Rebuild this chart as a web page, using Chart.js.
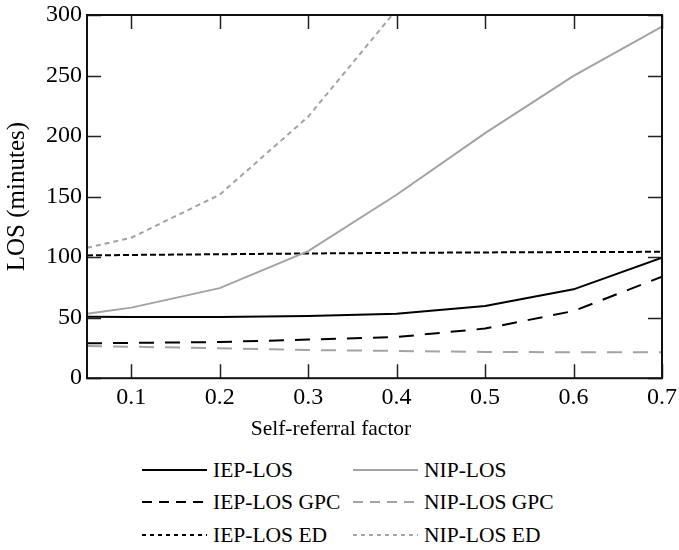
<!DOCTYPE html>
<html>
<head>
<meta charset="utf-8">
<script src="https://cdn.jsdelivr.net/npm/chart.js@4/dist/chart.umd.min.js"></script>
<style>
    html, body { margin: 0; padding: 0; background: #fff; }
    #wrap { position: relative; width: 679px; height: 550px; font-family: 'Liberation Serif', serif; }
    #chart { position: absolute; left: 0; top: 0; }
    .legend-item { position: absolute; height: 26px; display: flex; align-items: center; font-size: 21.5px; color: #000; white-space: nowrap; }
    .legend-item svg { margin-right: 6px; }
</style>
</head>
<body>
<div id="wrap">
    <canvas id="chart" width="679" height="450"></canvas>
    <div id="legend"></div>
</div>
<script>
const factors = [0.05, 0.1, 0.2, 0.3, 0.4, 0.5, 0.6, 0.7];
const iepLos = [50.8, 50.6, 50.6, 51.3, 53.3, 59.6, 73.4, 99.5];
const nipLos = [53.3, 58.3, 74.4, 104.9, 151.5, 202.4, 249.7, 290.4];
const iepLosGpc = [28.8, 29.2, 29.9, 31.9, 34.0, 41.0, 55.5, 83.8];
const nipLosGpc = [26.6, 26.0, 24.7, 23.3, 22.5, 21.7, 21.4, 21.4];
const iepLosEd = [101.4, 101.8, 102.4, 103.0, 103.5, 103.9, 104.2, 104.4];
const nipLosEd = [107.7, 116.0, 151.6, 216.0, 304.5, null, null, null];
const xTicks = [0.1, 0.2, 0.3, 0.4, 0.5, 0.6, 0.7];
const yTicks = [0, 50, 100, 150, 200, 250, 300];

const BLACK = '#000000';
const GREY = '#a3a3a3';
const TICK_FONT = { family: "'Liberation Serif', serif", size: 24 };
const LABEL_FONT = { family: "'Liberation Serif', serif", size: 21.5, weight: 'normal' };

const seriesDefs = [
    { label: 'IEP-LOS', values: iepLos, color: BLACK, dash: [] },
    { label: 'NIP-LOS', values: nipLos, color: GREY, dash: [] },
    { label: 'IEP-LOS GPC', values: iepLosGpc, color: BLACK, dash: [15, 11] },
    { label: 'NIP-LOS GPC', values: nipLosGpc, color: GREY, dash: [15, 11] },
    { label: 'IEP-LOS ED', values: iepLosEd, color: BLACK, dash: [6, 3] },
    { label: 'NIP-LOS ED', values: nipLosEd, color: GREY, dash: [5, 4] }
];

const toPoints = (values) => factors.map((x, i) => ({ x, y: values[i] }));

// inward ticks on all four sides plus the frame
const frameTicks = {
    id: 'frameTicks',
    afterDatasetsDraw(chart) {
        const { ctx, chartArea: area, scales } = chart;
        const len = 14;
        ctx.save();
        ctx.strokeStyle = '#222';
        ctx.lineWidth = 1.5;
        xTicks.forEach((v) => {
            const px = Math.round(scales.x.getPixelForValue(v)) + 0.5;
            ctx.beginPath();
            ctx.moveTo(px, area.bottom);
            ctx.lineTo(px, area.bottom - len);
            ctx.moveTo(px, area.top);
            ctx.lineTo(px, area.top + len);
            ctx.stroke();
        });
        yTicks.forEach((v) => {
            const py = Math.round(scales.y.getPixelForValue(v)) + 0.5;
            ctx.beginPath();
            ctx.moveTo(area.left, py);
            ctx.lineTo(area.left + len, py);
            ctx.moveTo(area.right, py);
            ctx.lineTo(area.right - len, py);
            ctx.stroke();
        });
        ctx.lineWidth = 2;
        ctx.strokeStyle = '#111';
        ctx.strokeRect(area.left, area.top, area.right - area.left, area.bottom - area.top);
        ctx.restore();
    }
};

new Chart(document.getElementById('chart'), {
    type: 'line',
    data: {
        datasets: seriesDefs.map((s) => ({
            label: s.label,
            data: toPoints(s.values),
            borderColor: s.color,
            backgroundColor: s.color,
            borderDash: s.dash,
            borderWidth: 2,
            pointRadius: 0,
            tension: 0,
            spanGaps: false
        }))
    },
    options: {
        responsive: false,
        animation: false,
        layout: { padding: { top: 15, right: 17, left: 0, bottom: 0 } },
        plugins: {
            legend: { display: false },
            tooltip: { enabled: false },
            title: {
                display: true,
                position: 'bottom',
                text: 'Self-referral factor',
                color: BLACK,
                font: LABEL_FONT,
                padding: { top: 4, bottom: 8 }
            }
        },
        scales: {
            x: {
                type: 'linear',
                min: 0.05,
                max: 0.7,
                grid: { display: false, drawTicks: false },
                border: { display: false },
                afterBuildTicks: (scale) => { scale.ticks = xTicks.map((value) => ({ value })); },
                afterFit: (scale) => {
                    scale.height = 34;
                    scale.paddingLeft = 0;
                    scale.paddingRight = 0;
                },
                ticks: {
                    color: BLACK,
                    font: TICK_FONT,
                    padding: 5,
                    maxRotation: 0,
                    callback: (v) => v.toFixed(1)
                }
            },
            y: {
                min: 0,
                max: 300,
                grid: { display: false, drawTicks: false },
                border: { display: false },
                afterBuildTicks: (scale) => { scale.ticks = yTicks.map((value) => ({ value })); },
                afterFit: (scale) => {
                    scale.width = 87;
                    scale.paddingTop = 0;
                    scale.paddingBottom = 0;
                },
                ticks: { color: BLACK, font: TICK_FONT, padding: 5 },
                title: {
                    display: true,
                    text: 'LOS (minutes)',
                    color: BLACK,
                    font: { family: "'Liberation Serif', serif", size: 25 },
                    padding: { top: 2, bottom: 2 }
                }
            }
        }
    },
    plugins: [frameTicks]
});

// two-column legend below the chart
const legendSlots = [
    { left: 142, top: 457 }, { left: 353, top: 457 },
    { left: 142, top: 489 }, { left: 353, top: 489 },
    { left: 142, top: 522 }, { left: 353, top: 522 }
];
const legend = document.getElementById('legend');
seriesDefs.forEach((s, i) => {
    const item = document.createElement('div');
    item.className = 'legend-item';
    item.style.left = legendSlots[i].left + 'px';
    item.style.top = legendSlots[i].top + 'px';
    const dash = s.dash.length ? (s.dash[0] > 10 ? '10,7' : '4,4') : 'none';
    item.innerHTML = '<svg width="65" height="10"><line x1="0" y1="5" x2="65" y2="5" stroke="' + s.color +
        '" stroke-width="2" stroke-dasharray="' + dash + '"/></svg>';
    const text = document.createElement('span');
    text.textContent = s.label;
    item.appendChild(text);
    legend.appendChild(item);
});
</script>
</body>
</html>
